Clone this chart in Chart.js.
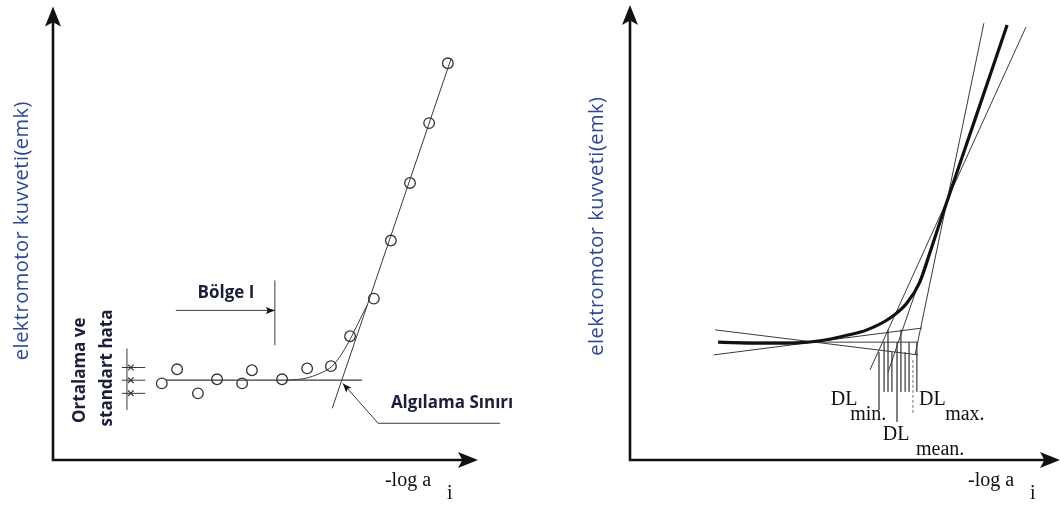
<!DOCTYPE html>
<html>
<head>
<meta charset="utf-8">
<script src="https://cdn.jsdelivr.net/npm/chart.js@4.4.1/dist/chart.umd.min.js"></script>
<style>
  html, body { margin: 0; padding: 0; background: #fff; }
  #wrap { position: relative; width: 1064px; height: 507px; }
  canvas { position: absolute; top: 0; }
  #leftChart { left: 0; }
  #rightChart { left: 520px; }
</style>
</head>
<body>
<div id="wrap">
  <canvas id="leftChart" width="520" height="507"></canvas>
  <canvas id="rightChart" width="544" height="507"></canvas>
</div>
<script>
// ---- left panel: measured points and fitted lines (axis units 0..10) ----
const measX = [2.56, 2.92, 3.41, 3.86, 4.45, 4.68, 5.39, 5.98, 6.54, 6.99, 7.55, 7.95, 8.40, 8.85, 9.29];
const measY = [1.69, 2.00, 1.47, 1.78, 1.69, 1.98, 1.78, 2.02, 2.07, 2.73, 3.56, 4.84, 6.11, 7.43, 8.75];
const meanX = [2.66, 7.27];
const meanY = [1.76, 1.76];
const fitX = [6.57, 9.37];
const fitY = [1.14, 8.86];
const bendX = [5.53, 5.93, 6.28, 6.57, 6.80, 7.04, 7.29, 7.39];
const bendY = [1.76, 1.80, 1.91, 2.07, 2.35, 2.75, 3.23, 3.41];
const sdLevels = [2.04, 1.76, 1.47];
const sdSpan = [1.62, 2.17];
const sdBarX = 1.74;
const sdBarY = [1.10, 2.46];
const regionX = [2.89, 5.22];
const regionY = [3.30, 3.30];
const regionTickY = [2.53, 3.96];
const leaderX = [6.82, 7.65, 10.52];
const leaderY = [1.69, 0.81, 0.81];

// ---- right panel: response curve, tangent lines, detection limits ----
const curveX = [2.05, 3.02, 3.72, 4.42, 5.00, 5.51, 6.05, 6.44, 6.74, 6.98, 7.21, 8.00, 8.77];
const curveY = [2.59, 2.57, 2.57, 2.62, 2.73, 2.86, 3.12, 3.45, 3.91, 4.57, 5.23, 7.42, 9.56];
const slopeLowX = [5.58, 9.21],  slopeLowY = [1.98, 9.52];
const slopeMidX = [6.00, 8.77],  slopeMidY = [1.93, 9.56];
const slopeHighX = [6.63, 8.23], slopeHighY = [2.31, 9.60];
const flatDownX = [1.98, 6.70],  flatDownY = [2.86, 2.31];
const flatUpX = [1.95, 6.79],    flatUpY = [2.31, 2.90];
const flatMidX = [2.05, 6.70],   flatMidY = [2.59, 2.59];
const dropX = [5.79, 5.91, 6.00, 6.09, 6.21, 6.30, 6.40, 6.49, 6.58, 6.67];
const dropTop = [2.37, 2.59, 2.86, 2.37, 2.59, 2.86, 2.37, 2.59, 2.20, 2.59];
const dropBottom = [1.10, 1.50, 1.50, 1.50, 0.84, 1.50, 1.50, 1.50, 1.03, 1.50];

function pts(xs, ys) {
  return xs.map((x, i) => ({ x: x, y: ys[i] }));
}

function line(xs, ys, extra) {
  return Object.assign({
    data: pts(xs, ys),
    showLine: true,
    pointRadius: 0,
    borderColor: '#3a3a3a',
    borderWidth: 1,
    fill: false,
    clip: false,
    tension: 0
  }, extra || {});
}

function arrowHead(ctx, tx, ty, dx, dy, len, half, notch) {
  const d = Math.hypot(dx, dy);
  dx /= d; dy /= d;
  const bx = tx - dx * len, by = ty - dy * len;
  const nx = tx - dx * len * notch, ny = ty - dy * len * notch;
  ctx.beginPath();
  ctx.moveTo(tx, ty);
  ctx.lineTo(bx - dy * half, by + dx * half);
  ctx.lineTo(nx, ny);
  ctx.lineTo(bx + dy * half, by - dx * half);
  ctx.closePath();
  ctx.fill();
}

// draws the arrowed axes, small arrowheads and all texts
function overlay(spec) {
  return {
    id: 'overlay',
    afterDatasetsDraw(chart) {
      const ctx = chart.ctx;
      const sx = chart.scales.x, sy = chart.scales.y;
      const px = v => sx.getPixelForValue(v);
      const py = v => sy.getPixelForValue(v);
      ctx.save();
      ctx.strokeStyle = '#111';
      ctx.fillStyle = '#111';
      ctx.lineWidth = 2.6;
      ctx.beginPath();
      ctx.moveTo(px(0), py(0) + 1.3);
      ctx.lineTo(px(0), py(10) + 12);
      ctx.moveTo(px(0), py(0));
      ctx.lineTo(px(10) - 12, py(0));
      ctx.stroke();
      arrowHead(ctx, px(0), py(10), 0, -1, 20, 8, 0.78);
      arrowHead(ctx, px(10), py(0), 1, 0, 20, 8, 0.78);

      (spec.arrows || []).forEach(a => {
        arrowHead(ctx, px(a.x), py(a.y), px(a.x) - px(a.fx), py(a.y) - py(a.fy), 9, 3.5, 0.8);
      });

      (spec.texts || []).forEach(t => {
        ctx.save();
        ctx.font = t.font;
        ctx.letterSpacing = t.spacing || '0px';
        ctx.fillStyle = t.color || '#111';
        ctx.textAlign = t.align || 'left';
        ctx.textBaseline = t.baseline || 'alphabetic';
        ctx.translate(px(t.x), py(t.y));
        if (t.rotate) ctx.rotate(t.rotate);
        ctx.fillText(t.text, 0, 0);
        ctx.restore();
      });
      ctx.restore();
    }
  };
}

function options(padding) {
  return {
    responsive: false,
    animation: false,
    devicePixelRatio: 1,
    layout: { padding: padding },
    plugins: { legend: { display: false }, tooltip: { enabled: false } },
    scales: {
      x: { type: 'linear', min: 0, max: 10, display: false },
      y: { type: 'linear', min: 0, max: 10, display: false }
    }
  };
}

const titleFont = '20px "Open Sans"';
const titleColor = '#2d479a';
const noteFont = 'bold 17px "Open Sans"';
const noteColor = '#1c1f3a';
const serif = '20px "Liberation Serif"';

// ---------------- left chart ----------------
const leftSets = [
  {
    data: pts(measX, measY),
    showLine: false,
    pointStyle: 'circle',
    pointRadius: 5.3,
    pointBorderColor: '#333',
    pointBackgroundColor: 'rgba(0,0,0,0)',
    pointBorderWidth: 1.3,
    clip: false
  },
  line(meanX, meanY, { borderWidth: 1.3 }),
  line(fitX, fitY),
  line(bendX, bendY, { cubicInterpolationMode: 'monotone' }),
  line([sdBarX, sdBarX], sdBarY),
  line(regionX, regionY),
  line([regionX[1], regionX[1]], regionTickY),
  line(leaderX, leaderY),
  {
    data: sdLevels.map(v => ({ x: 1.83, y: v })),
    showLine: false,
    pointStyle: 'crossRot',
    pointRadius: 4,
    pointBorderColor: '#333',
    pointBorderWidth: 1.2,
    clip: false
  }
].concat(sdLevels.map(v => line(sdSpan, [v, v])));

new Chart(document.getElementById('leftChart'), {
  type: 'scatter',
  data: { datasets: leftSets },
  options: options({ left: 53, right: 42, top: 5, bottom: 47 }),
  plugins: [overlay({
    arrows: [
      { x: regionX[1], y: regionY[1], fx: regionX[0], fy: regionY[0] },
      { x: leaderX[0], y: leaderY[0], fx: leaderX[1], fy: leaderY[1] }
    ],
    texts: [
      { text: 'elektromotor kuvveti(emk)', x: -0.73, y: 5.06, font: titleFont, spacing: '0.5px', color: titleColor, align: 'center', baseline: 'middle', rotate: -Math.PI / 2 },
      { text: 'Bölge I', x: 4.07, y: 3.69, font: noteFont, color: noteColor, align: 'center', baseline: 'middle' },
      { text: 'Algılama Sınırı', x: 9.39, y: 1.25, font: noteFont, color: noteColor, align: 'center', baseline: 'middle' },
      { text: 'Ortalama ve', x: 0.64, y: 1.98, font: noteFont, color: noteColor, align: 'center', baseline: 'middle', rotate: -Math.PI / 2 },
      { text: 'standart hata', x: 1.27, y: 2.03, font: noteFont, color: noteColor, align: 'center', baseline: 'middle', rotate: -Math.PI / 2 },
      { text: '-log a', x: 7.81, y: -0.46, font: serif, baseline: 'middle' },
      { text: 'i', x: 9.27, y: -0.75, font: serif, baseline: 'middle' }
    ]
  })]
});

// ---------------- right chart ----------------
const rightSets = [
  line(curveX, curveY, { borderColor: '#111', borderWidth: 3.2, cubicInterpolationMode: 'monotone' }),
  line(slopeLowX, slopeLowY),
  line(slopeMidX, slopeMidY),
  line(slopeHighX, slopeHighY),
  line(flatDownX, flatDownY),
  line(flatUpX, flatUpY),
  line(flatMidX, flatMidY)
].concat(dropX.map((x, i) => line([x, x], [dropTop[i], dropBottom[i]], {
  borderColor: '#666',
  borderWidth: 0.9,
  borderDash: i === 8 ? [3, 2] : []
})));

new Chart(document.getElementById('rightChart'), {
  type: 'scatter',
  data: { datasets: rightSets },
  options: options({ left: 110, right: 4, top: 5, bottom: 47 }),
  plugins: [overlay({
    texts: [
      { text: 'elektromotor kuvveti(emk)', x: -0.77, y: 5.14, font: titleFont, spacing: '0.5px', color: titleColor, align: 'center', baseline: 'middle', rotate: -Math.PI / 2 },
      { text: 'DL', x: 4.67, y: 1.21, font: serif },
      { text: 'min.', x: 5.12, y: 0.88, font: serif },
      { text: 'DL', x: 5.88, y: 0.44, font: serif },
      { text: 'mean.', x: 6.65, y: 0.11, font: serif },
      { text: 'DL', x: 6.72, y: 1.21, font: serif },
      { text: 'max.', x: 7.33, y: 0.88, font: serif },
      { text: '-log a', x: 7.86, y: -0.46, font: serif, baseline: 'middle' },
      { text: 'i', x: 9.30, y: -0.75, font: serif, baseline: 'middle' }
    ]
  })]
});
</script>
</body>
</html>
